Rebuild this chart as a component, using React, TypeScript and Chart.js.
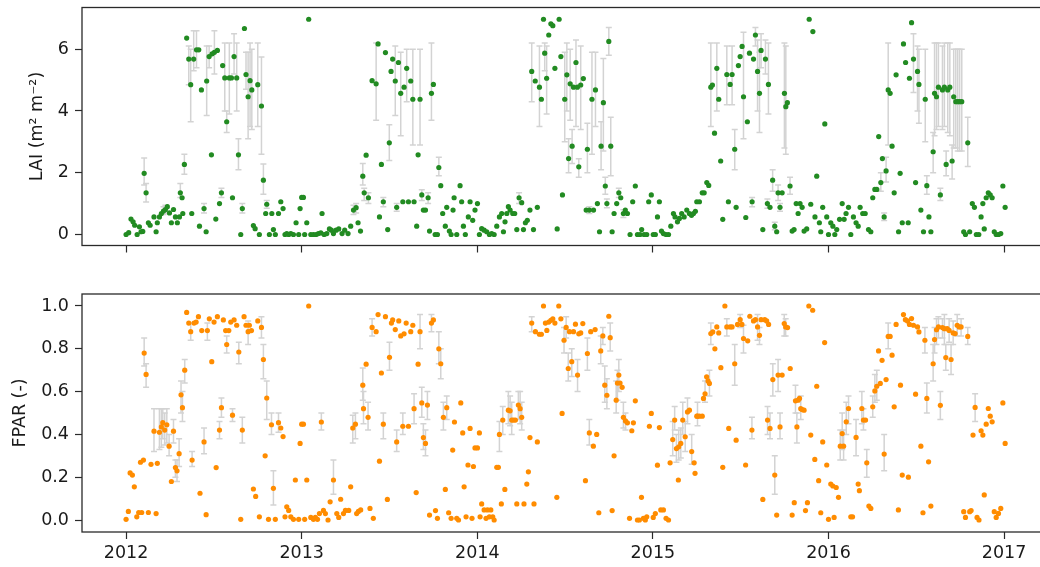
import React, { useEffect, useRef } from "react";
import { Chart, registerables } from "chart.js";

Chart.register(...registerables);

type Pt = [number, number, number?, number?];

const YEAR_TICKS = [2012, 2013, 2014, 2015, 2016, 2017];
const LAI_TICKS = [0, 2, 4, 6];
const FPAR_TICKS = [0, 0.2, 0.4, 0.6, 0.8, 1.0];
const X_MIN = 2011.749;
const X_MAX = 2017.25;
const LAI_RANGE = [-0.356, 7.35];
const FPAR_RANGE = [-0.056, 1.056];

// [decimal year, LAI, error low, error high]
const LAI_POINTS: Pt[] = [
  [2012.000,0.00],[2012.015,0.06],[2012.028,0.50],[2012.040,0.41],[2012.049,0.30],[2012.063,0.00],
  [2012.076,0.25],[2012.085,0.09],[2012.095,0.10],[2012.103,1.98,1.60,2.48],[2012.114,1.35,1.05,1.65],
  [2012.127,0.38],[2012.137,0.30],[2012.159,0.57],[2012.171,0.09],[2012.178,0.38],[2012.190,0.57],
  [2012.201,0.68],[2012.213,0.76,0.65,0.90],[2012.224,0.81,0.70,0.95],[2012.235,0.90],[2012.247,0.70],
  [2012.258,0.38],[2012.270,0.81],[2012.281,0.57],[2012.292,0.38],[2012.304,0.57],[2012.309,1.35,1.20,1.65],
  [2012.319,1.19],[2012.323,0.68],[2012.332,2.27,1.95,2.60],[2012.345,6.36],[2012.357,5.68,4.85,6.10],
  [2012.368,4.85,3.65,6.00],[2012.374,0.68],[2012.385,5.68,5.30,6.60],[2012.401,5.98,5.40,6.60],
  [2012.414,5.98],[2012.418,0.27],[2012.429,4.68],[2012.444,0.84,0.70,1.00],[2012.456,0.09],
  [2012.459,4.97,3.85,6.10],[2012.473,5.76,5.40,6.10],[2012.486,2.58],[2012.490,5.85],
  [2012.503,5.90,5.20,6.60],[2012.511,0.50],[2012.520,5.96],[2012.532,1.00],[2012.543,1.35,1.20,1.50],
  [2012.550,5.47],[2012.562,5.07,4.00,6.20],[2012.573,3.65,3.30,4.00],[2012.588,5.07,3.90,6.20],
  [2012.600,5.07],[2012.606,1.19],[2012.615,5.76,5.20,6.50],[2012.630,5.07,4.00,6.20],
  [2012.640,2.58,2.10,3.10],[2012.653,0.00],[2012.662,0.84,0.70,1.00],[2012.674,6.67],
  [2012.683,5.18,4.70,5.90],[2012.695,4.46,3.10,5.90],[2012.706,4.98,3.50,6.20],[2012.716,4.68,3.40,6.00],
  [2012.725,0.29],[2012.735,0.19],[2012.750,4.85,3.50,6.20],[2012.759,0.00],[2012.771,4.16,2.60,5.75],
  [2012.782,1.76,1.30,2.28],[2012.795,0.68],[2012.801,0.98,0.85,1.10],[2012.816,0.00],[2012.830,0.68],
  [2012.839,0.16],[2012.850,0.00],[2012.868,0.68],[2012.881,1.06],[2012.894,0.84],[2012.905,0.00],
  [2012.915,0.03],[2012.926,0.00],[2012.938,0.03],[2012.953,0.00],[2012.968,0.38],[2012.983,0.00],
  [2012.991,0.84],[2013.000,1.20],[2013.010,1.20],[2013.017,0.00],[2013.029,0.38],[2013.040,6.97],
  [2013.052,0.00],[2013.067,0.00],[2013.082,0.00],[2013.095,0.03],[2013.109,0.05],[2013.116,0.68],
  [2013.128,0.00],[2013.143,0.03],[2013.158,0.18],[2013.169,0.14],[2013.181,0.03],[2013.196,0.14],
  [2013.211,0.18],[2013.230,0.03],[2013.245,0.14],[2013.264,0.03],[2013.279,0.27],
  [2013.295,0.79,0.65,0.95],[2013.310,0.87,0.70,1.00],[2013.321,0.38],[2013.335,0.11],
  [2013.348,1.89,1.60,2.30],[2013.356,1.35,1.10,1.50],[2013.367,2.57],[2013.380,1.19,1.00,1.35],
  [2013.401,4.98],[2013.424,4.88,3.70,6.20],[2013.435,6.17],[2013.443,0.57],[2013.454,2.27],
  [2013.465,1.06,0.90,1.20],[2013.477,5.89],[2013.490,0.16],[2013.499,2.97,2.40,3.55],[2013.509,5.28],
  [2013.518,5.68],[2013.533,4.97,3.85,6.10],[2013.541,0.88,0.75,1.00],[2013.551,5.57],
  [2013.564,4.57,3.20,5.90],[2013.576,1.06],[2013.583,4.77],[2013.598,5.38,4.30,6.00],[2013.608,1.06],
  [2013.621,4.97],[2013.633,4.38,2.90,6.00],[2013.640,1.06],[2013.655,0.27],[2013.663,2.58],
  [2013.674,4.38,2.90,6.00],[2013.684,1.28,1.10,1.45],[2013.693,0.79],[2013.705,0.79],
  [2013.720,1.19,1.00,1.35],[2013.728,0.11],[2013.739,4.57,3.70,6.20],[2013.750,4.86],[2013.760,0.00],
  [2013.773,0.00],[2013.781,2.17,1.90,2.50],[2013.792,1.58],[2013.803,0.68],[2013.818,0.27],
  [2013.826,0.88],[2013.841,0.11],[2013.851,0.00],[2013.862,0.79],[2013.868,1.19],[2013.883,0.00],
  [2013.902,1.58],[2013.911,1.06],[2013.921,0.27],[2013.932,0.00],[2013.949,0.57],[2013.959,1.06],
  [2013.974,0.46],[2013.987,0.79],[2014.001,1.00],[2014.012,0.00],[2014.025,0.19],[2014.039,0.14],
  [2014.054,0.09],[2014.069,0.00],[2014.082,0.03],[2014.096,0.00],[2014.111,0.27],[2014.126,0.57],
  [2014.139,0.68],[2014.149,0.09],[2014.158,0.41],[2014.168,0.68],[2014.177,0.90],[2014.187,0.79],
  [2014.202,0.68],[2014.213,0.68],[2014.225,0.16],[2014.238,1.19,1.00,1.35],[2014.253,1.03],
  [2014.263,0.16],[2014.274,0.38],[2014.285,0.46],[2014.300,0.79],[2014.310,5.28,4.30,6.20],
  [2014.320,0.16],[2014.330,4.97],[2014.342,0.88],[2014.354,4.77,3.50,6.10],[2014.365,4.38],
  [2014.377,6.97],[2014.384,5.87,5.30,6.20],[2014.395,5.06,3.90,6.10],[2014.407,6.46],[2014.419,6.82],
  [2014.430,6.76],[2014.442,5.38],[2014.455,0.18],[2014.466,6.97],[2014.476,5.76],[2014.485,1.28],
  [2014.498,4.38,3.00,5.90],[2014.510,5.17,4.00,6.20],[2014.520,2.46,2.00,3.10],[2014.529,4.88,3.70,6.00],
  [2014.540,2.86,2.30,3.40],[2014.548,4.77],[2014.562,5.57,3.50,6.30],[2014.570,4.77],
  [2014.578,2.19,1.85,2.45],[2014.589,4.84,3.40,6.10],[2014.604,5.05],[2014.620,0.79],
  [2014.627,2.76,2.00,3.60],[2014.638,0.79,0.68,0.90],[2014.653,4.38,2.60,5.90],[2014.662,0.79],
  [2014.673,4.68,3.50,5.90],[2014.684,1.00],[2014.696,0.09],[2014.705,2.86,2.10,3.65],
  [2014.718,4.27,2.70,5.70],[2014.729,1.57,1.30,1.85],[2014.738,1.00,0.87,1.15],[2014.749,6.25,5.80,6.70],
  [2014.760,2.86,1.90,3.80],[2014.768,0.09],[2014.779,0.68],[2014.794,1.00],[2014.806,1.35,1.20,1.50],
  [2014.817,1.19],[2014.832,0.68,0.55,0.80],[2014.843,0.79],[2014.855,0.68],[2014.870,0.00],
  [2014.885,1.06],[2014.900,1.57],[2014.912,0.00],[2014.927,0.00],[2014.936,0.16],[2014.950,0.00],
  [2014.965,0.00],[2014.976,1.06],[2014.991,1.28],[2015.002,0.00],[2015.014,0.00],[2015.026,0.57],
  [2015.037,1.06],[2015.049,0.11],[2015.060,0.03],[2015.075,0.00],[2015.089,0.00],[2015.102,0.27],
  [2015.117,0.68],[2015.126,0.57],[2015.140,0.41],[2015.151,0.52],[2015.164,0.68],[2015.178,0.57],
  [2015.193,0.79],[2015.208,0.68],[2015.220,0.62],[2015.231,0.68],[2015.242,0.75],[2015.250,1.06],
  [2015.265,1.06],[2015.281,1.35],[2015.292,1.35],[2015.307,1.68],[2015.318,1.59],
  [2015.330,4.77,3.50,6.20],[2015.339,4.84],[2015.351,3.28],[2015.364,5.38,4.00,6.20],[2015.375,4.38],
  [2015.386,2.38],[2015.398,0.49],[2015.421,5.18,4.20,6.10],[2015.430,1.06],[2015.440,4.86],
  [2015.451,5.18,4.20,6.10],[2015.466,2.76,2.10,3.40],[2015.474,0.88],[2015.487,5.47],[2015.497,5.76],
  [2015.508,6.09],[2015.516,4.46,3.10,6.55],[2015.529,0.55],[2015.538,3.65],[2015.550,5.87],
  [2015.565,1.06,0.90,1.20],[2015.573,5.68],[2015.584,6.46,6.10,6.70],[2015.596,5.28,4.00,6.30],
  [2015.607,4.57,3.30,5.90],[2015.616,5.96,5.40,6.50],[2015.626,0.16],[2015.641,5.68,5.20,6.30],
  [2015.652,1.00,0.85,1.15],[2015.658,4.86,3.90,6.20],[2015.667,0.88],[2015.682,1.76,1.40,2.10],
  [2015.694,0.27,0.15,0.40],[2015.705,0.09],[2015.713,1.35,1.10,1.60],[2015.724,0.88,0.75,1.00],
  [2015.736,1.35],[2015.749,4.57,2.80,6.20],[2015.757,4.14,2.60,6.10],[2015.766,4.27],
  [2015.781,1.57,1.30,1.85],[2015.793,0.11],[2015.804,0.16],[2015.816,1.00],[2015.827,0.68],
  [2015.838,1.00],[2015.850,0.88],[2015.861,0.11],[2015.876,0.18],[2015.890,6.97],[2015.899,0.98],
  [2015.911,6.57],[2015.923,0.57],[2015.933,1.89],[2015.948,0.38],[2015.956,0.09],[2015.967,0.88],
  [2015.979,3.58],[2015.990,0.57],[2016.000,0.00],[2016.013,0.38],[2016.025,0.27],[2016.036,0.00],
  [2016.047,0.16],[2016.063,0.49],[2016.078,1.00],[2016.089,0.49],[2016.100,0.68],[2016.114,0.88],
  [2016.127,0.00],[2016.142,0.57],[2016.157,0.38],[2016.169,0.27],[2016.180,0.88],[2016.195,0.68],
  [2016.209,0.68],[2016.228,0.16],[2016.241,0.09],[2016.252,1.19],[2016.264,1.46],[2016.275,1.46],
  [2016.286,3.17],[2016.298,1.68,1.40,2.00],[2016.307,2.46],[2016.317,0.57,0.45,0.70],
  [2016.328,2.06,1.70,2.50],[2016.340,4.68,2.90,6.20],[2016.351,4.57],[2016.362,2.86],[2016.374,1.35],
  [2016.385,5.17],[2016.399,0.09],[2016.408,1.98],[2016.420,0.38],[2016.427,6.17],[2016.439,5.57],
  [2016.454,0.38],[2016.461,5.06],[2016.473,6.86],[2016.484,5.68,4.60,6.50],[2016.496,1.68],
  [2016.507,5.28,4.00,6.10],[2016.515,4.86,3.60,6.00],[2016.526,0.79],[2016.541,0.09],
  [2016.551,4.38,3.00,6.00],[2016.560,1.58,1.30,1.90],[2016.572,0.57],[2016.583,0.09],
  [2016.596,2.68,2.00,3.30],[2016.604,4.57,3.20,6.20],[2016.615,4.46,3.40,6.20],[2016.626,4.77,3.50,6.20],
  [2016.637,1.28,1.10,1.50],[2016.649,4.68,3.40,6.10],[2016.660,4.77,3.50,6.20],[2016.670,2.27,1.90,2.70],
  [2016.679,4.68,3.30,6.20],[2016.691,4.77,3.20,6.20],[2016.704,2.38,1.80,2.90],[2016.713,4.46,2.80,6.00],
  [2016.725,4.30,2.80,6.00],[2016.736,4.30,2.70,6.00],[2016.747,4.30,2.70,6.00],[2016.759,4.30,2.70,6.00],
  [2016.770,0.09],[2016.780,0.00],[2016.793,2.97,2.20,3.80],[2016.804,0.09],[2016.819,1.00],
  [2016.831,0.88],[2016.842,0.00],[2016.856,0.00],[2016.869,0.57],[2016.879,1.00],[2016.887,0.18],
  [2016.898,1.19],[2016.910,1.35],[2016.921,1.28],[2016.932,1.19],[2016.944,0.09],[2016.955,0.00],
  [2016.968,0.00],[2016.981,0.03],[2016.993,1.57],[2017.006,0.88],
];

// [decimal year, FPAR, error low, error high]
const FPAR_POINTS: Pt[] = [
  [2012.000,0.003],[2012.013,0.04],[2012.023,0.22],[2012.036,0.21],[2012.047,0.155],[2012.061,0.015],
  [2012.072,0.035],[2012.082,0.27],[2012.089,0.035],[2012.099,0.28],[2012.103,0.78,0.72,0.85],
  [2012.114,0.68,0.62,0.73],[2012.127,0.035],[2012.142,0.26],[2012.159,0.415,0.32,0.52],[2012.171,0.03],
  [2012.178,0.265],[2012.190,0.41,0.33,0.52],[2012.201,0.435,0.34,0.52],[2012.209,0.455,0.38,0.52],
  [2012.220,0.42,0.35,0.50],[2012.232,0.445,0.36,0.52],[2012.245,0.345,0.30,0.40],[2012.258,0.18],
  [2012.270,0.415,0.36,0.47],[2012.281,0.245,0.20,0.28],[2012.290,0.23,0.18,0.28],[2012.302,0.31,0.25,0.38],
  [2012.313,0.585,0.50,0.65],[2012.321,0.525,0.46,0.60],[2012.334,0.70,0.64,0.75],[2012.345,0.97],
  [2012.357,0.92],[2012.368,0.88,0.84,0.92],[2012.376,0.28,0.25,0.32],[2012.387,0.92],[2012.399,0.925],
  [2012.412,0.95],[2012.421,0.125],[2012.431,0.885],[2012.444,0.365,0.31,0.43],[2012.456,0.025],
  [2012.463,0.885,0.84,0.92],[2012.474,0.94],[2012.488,0.74],[2012.501,0.925],[2012.513,0.245],
  [2012.520,0.95],[2012.532,0.42,0.38,0.46],[2012.543,0.525,0.48,0.57],[2012.554,0.935],[2012.567,0.885],
  [2012.573,0.82,0.78,0.86],[2012.585,0.885],[2012.596,0.925],[2012.606,0.49,0.46,0.52],[2012.615,0.935],
  [2012.630,0.91],[2012.642,0.785,0.73,0.83],[2012.653,0.003],[2012.662,0.42,0.36,0.48],[2012.672,0.95],
  [2012.683,0.91],[2012.695,0.88,0.82,0.93],[2012.702,0.91],[2012.714,0.885],[2012.725,0.145],
  [2012.738,0.11],[2012.750,0.93],[2012.759,0.015],[2012.771,0.90,0.85,0.95],[2012.782,0.75,0.66,0.82],
  [2012.792,0.30],[2012.801,0.57,0.47,0.65],[2012.811,0.003],[2012.828,0.445,0.40,0.50],
  [2012.839,0.148,0.07,0.23],[2012.850,0.003],[2012.868,0.455,0.41,0.50],[2012.881,0.43],[2012.894,0.39],
  [2012.905,0.015],[2012.915,0.062],[2012.926,0.045],[2012.938,0.015],[2012.953,0.003],[2012.964,0.187],
  [2012.983,0.003],[2012.991,0.358],[2013.000,0.448],[2013.010,0.448],[2013.017,0.003],[2013.029,0.187],
  [2013.040,1.0],[2013.052,0.012],[2013.067,0.003],[2013.078,0.012],[2013.090,0.003],[2013.101,0.03],
  [2013.112,0.458,0.42,0.50],[2013.124,0.045],[2013.135,0.03],[2013.150,0.0],[2013.162,0.085],
  [2013.181,0.187,0.12,0.28],[2013.200,0.03],[2013.211,0.012],[2013.222,0.097],[2013.238,0.03],
  [2013.249,0.045],[2013.268,0.045],[2013.279,0.155],[2013.291,0.43,0.36,0.49],[2013.306,0.448,0.38,0.50],
  [2013.313,0.03],[2013.323,0.04],[2013.336,0.047],[2013.348,0.63,0.56,0.71],[2013.352,0.52,0.45,0.60],
  [2013.367,0.728],[2013.378,0.48,0.42,0.55],[2013.389,0.054],[2013.401,0.90,0.86,0.94],[2013.408,0.008],
  [2013.424,0.88],[2013.435,0.96],[2013.443,0.275],[2013.454,0.687],[2013.465,0.448,0.38,0.50],
  [2013.477,0.95],[2013.488,0.096],[2013.500,0.76,0.70,0.83],[2013.511,0.92],[2013.518,0.935],
  [2013.533,0.89],[2013.541,0.365,0.32,0.42],[2013.553,0.93],[2013.564,0.86],[2013.576,0.438,0.40,0.50],
  [2013.583,0.87],[2013.595,0.92],[2013.608,0.438],[2013.621,0.88],[2013.633,0.91],
  [2013.640,0.52,0.45,0.59],[2013.652,0.128],[2013.663,0.728],[2013.674,0.88,0.80,0.96],
  [2013.684,0.547,0.48,0.62],[2013.693,0.385,0.33,0.45],[2013.705,0.358,0.30,0.42],
  [2013.716,0.537,0.47,0.60],[2013.728,0.023],[2013.739,0.92,0.88,0.96],[2013.750,0.935],[2013.762,0.044],
  [2013.773,0.008],[2013.781,0.80,0.73,0.88],[2013.792,0.73,0.66,0.80],[2013.807,0.48,0.42,0.55],
  [2013.818,0.143],[2013.826,0.525,0.47,0.58],[2013.837,0.034],[2013.851,0.008],[2013.860,0.327],
  [2013.870,0.458],[2013.883,0.008],[2013.893,0.0],[2013.906,0.547],[2013.917,0.407],[2013.925,0.155],
  [2013.936,0.015],[2013.947,0.257],[2013.959,0.428],[2013.970,0.008],[2013.978,0.25],[2013.987,0.337],
  [2014.001,0.337],[2014.012,0.407],[2014.016,0.015],[2014.025,0.075],[2014.039,0.047],[2014.050,0.008],
  [2014.058,0.047],[2014.069,0.015],[2014.077,0.047],[2014.088,0.015],[2014.096,0.0],[2014.111,0.246],
  [2014.120,0.246],[2014.126,0.40,0.32,0.46],[2014.137,0.075],[2014.145,0.467,0.40,0.53],[2014.157,0.143],
  [2014.177,0.513,0.45,0.60],[2014.187,0.51,0.44,0.58],[2014.196,0.467,0.40,0.55],[2014.206,0.467],
  [2014.217,0.467],[2014.225,0.075],[2014.234,0.537,0.47,0.60],[2014.244,0.52,0.45,0.60],
  [2014.253,0.48,0.42,0.55],[2014.266,0.075],[2014.282,0.168],[2014.291,0.225],[2014.300,0.385],
  [2014.310,0.92,0.88,0.95],[2014.323,0.075],[2014.331,0.88],[2014.342,0.365],[2014.354,0.868],
  [2014.365,0.868],[2014.377,1.0],[2014.388,0.92],[2014.396,0.886],[2014.407,0.925],[2014.419,0.933],
  [2014.430,0.94],[2014.442,0.92],[2014.453,0.106],[2014.464,1.0],[2014.476,0.94],[2014.483,0.498],
  [2014.494,0.84,0.78,0.90],[2014.506,0.90,0.85,0.95],[2014.518,0.708,0.65,0.78],[2014.525,0.88],
  [2014.538,0.74,0.67,0.80],[2014.548,0.88],[2014.559,0.915],[2014.571,0.677,0.60,0.75],[2014.578,0.87],
  [2014.589,0.874],[2014.601,0.918],[2014.616,0.184],[2014.627,0.778,0.70,0.85],[2014.638,0.407,0.35,0.47],
  [2014.646,0.88],[2014.661,0.345],[2014.671,0.89],[2014.680,0.40],[2014.692,0.034],
  [2014.703,0.79,0.73,0.86],[2014.715,0.86,0.82,0.90],[2014.726,0.63,0.55,0.72],[2014.738,0.583,0.52,0.66],
  [2014.749,0.952],[2014.757,0.852,0.79,0.92],[2014.768,0.044],[2014.779,0.30],[2014.791,0.56,0.50,0.65],
  [2014.798,0.64,0.56,0.70],[2014.806,0.677,0.60,0.75],[2014.813,0.64],[2014.825,0.62],
  [2014.832,0.48,0.43,0.55],[2014.844,0.463,0.42,0.50],[2014.855,0.454],[2014.867,0.008],[2014.880,0.417],
  [2014.889,0.454],[2014.900,0.557],[2014.912,0.0],[2014.923,0.0],[2014.935,0.106],[2014.946,0.008],
  [2014.957,0.0],[2014.965,0.015],[2014.980,0.438],[2014.991,0.498],[2015.002,0.012],[2015.014,0.03],
  [2015.026,0.256],[2015.037,0.432],[2015.045,0.047],[2015.060,0.047],[2015.075,0.008],[2015.089,0.0],
  [2015.098,0.267],[2015.113,0.376,0.30,0.46],[2015.124,0.467,0.42,0.53],[2015.134,0.334,0.27,0.40],
  [2015.145,0.187],[2015.147,0.342,0.28,0.42],[2015.159,0.358,0.29,0.43],[2015.170,0.467,0.40,0.55],
  [2015.184,0.389,0.32,0.46],[2015.197,0.505,0.45,0.57],[2015.208,0.513],[2015.221,0.32,0.26,0.40],
  [2015.235,0.267],[2015.240,0.218],[2015.250,0.485],[2015.254,0.485,0.44,0.55],[2015.265,0.485],
  [2015.281,0.485],[2015.288,0.568],[2015.297,0.59,0.55,0.65],[2015.306,0.669],[2015.314,0.65],
  [2015.322,0.638,0.58,0.70],[2015.330,0.871,0.82,0.92],[2015.341,0.879],[2015.353,0.80],[2015.364,0.902],
  [2015.375,0.874],[2015.387,0.712],[2015.398,0.246],[2015.410,1.0],[2015.421,0.902,0.86,0.94],
  [2015.432,0.428],[2015.440,0.902],[2015.451,0.902],[2015.466,0.73,0.63,0.82],[2015.474,0.373],
  [2015.482,0.914],[2015.497,0.936,0.90,0.96],[2015.507,0.914],[2015.516,0.848,0.78,0.91],[2015.528,0.257],
  [2015.540,0.837],[2015.552,0.952],[2015.564,0.42,0.38,0.48],[2015.573,0.93],[2015.584,0.936],
  [2015.596,0.902,0.84,0.96],[2015.607,0.863,0.82,0.90],[2015.616,0.936],[2015.626,0.096],[2015.637,0.936],
  [2015.648,0.93],[2015.653,0.467,0.40,0.53],[2015.659,0.914],[2015.667,0.428,0.38,0.50],
  [2015.683,0.656,0.58,0.73],[2015.694,0.21,0.12,0.30],[2015.705,0.023],[2015.713,0.677,0.60,0.75],
  [2015.724,0.435,0.38,0.50],[2015.736,0.677],[2015.748,0.918,0.86,0.96],[2015.756,0.902,0.86,0.94],
  [2015.767,0.899],[2015.782,0.708],[2015.793,0.023],[2015.805,0.081],[2015.812,0.557,0.50,0.63],
  [2015.820,0.435,0.36,0.50],[2015.827,0.56],[2015.835,0.568],[2015.842,0.52,0.47,0.58],[2015.850,0.516],
  [2015.861,0.513],[2015.869,0.044],[2015.880,0.081],[2015.888,1.0],[2015.899,0.397],[2015.910,0.98],
  [2015.922,0.283],[2015.933,0.625],[2015.944,0.184],[2015.956,0.034],[2015.967,0.365],[2015.978,0.829],
  [2015.990,0.257],[2016.000,0.003],[2016.013,0.168],[2016.025,0.159],[2016.032,0.012],[2016.044,0.152],
  [2016.057,0.106],[2016.067,0.345,0.28,0.42],[2016.078,0.404,0.33,0.50],[2016.086,0.345,0.28,0.42],
  [2016.101,0.459,0.40,0.55],[2016.114,0.521,0.45,0.58],[2016.127,0.015],[2016.137,0.015],
  [2016.157,0.386,0.30,0.47],[2016.169,0.168],[2016.176,0.137],[2016.190,0.521,0.45,0.60],
  [2016.199,0.467,0.42,0.52],[2016.211,0.467],[2016.218,0.267,0.20,0.33],[2016.230,0.065],[2016.241,0.054],
  [2016.252,0.529,0.48,0.58],[2016.264,0.603,0.55,0.68],[2016.275,0.625,0.56,0.70],[2016.285,0.79],
  [2016.295,0.638],[2016.305,0.746],[2016.317,0.308,0.23,0.40],[2016.328,0.656],[2016.340,0.858,0.80,0.92],
  [2016.351,0.858],[2016.362,0.77],[2016.374,0.529],[2016.385,0.914],[2016.398,0.047],[2016.410,0.63],
  [2016.420,0.21],[2016.427,0.96],[2016.438,0.936],[2016.450,0.93],[2016.455,0.20],[2016.461,0.914],
  [2016.473,0.941],[2016.484,0.91],[2016.496,0.588],[2016.507,0.902],[2016.515,0.879],[2016.526,0.345],
  [2016.538,0.034],[2016.549,0.84,0.78,0.90],[2016.560,0.568,0.50,0.64],[2016.570,0.272],[2016.583,0.065],
  [2016.596,0.73,0.65,0.82],[2016.604,0.843,0.78,0.90],[2016.615,0.889,0.82,0.94],[2016.626,0.902,0.85,0.95],
  [2016.637,0.536,0.47,0.60],[2016.649,0.899,0.85,0.94],[2016.660,0.894,0.82,0.96],[2016.668,0.759,0.70,0.82],
  [2016.676,0.894],[2016.687,0.886,0.83,0.94],[2016.698,0.75,0.68,0.82],[2016.710,0.874,0.82,0.93],
  [2016.721,0.871],[2016.733,0.91,0.86,0.96],[2016.744,0.902],[2016.755,0.902,0.86,0.94],[2016.770,0.039],
  [2016.780,0.012],[2016.793,0.858,0.82,0.90],[2016.804,0.039],[2016.812,0.044],[2016.823,0.397],
  [2016.835,0.526,0.46,0.59],[2016.846,0.012],[2016.857,0.0],[2016.869,0.417],[2016.879,0.397],
  [2016.887,0.117],[2016.898,0.448],[2016.910,0.521],[2016.921,0.485],[2016.932,0.459],[2016.944,0.039],
  [2016.955,0.012],[2016.968,0.031],[2016.981,0.054],[2016.993,0.547],[2017.006,0.358],
];

const FONT = { family: "'DejaVu Sans', sans-serif", size: 17.5 };
const TEXT = "#1a1a1a";
const ERR_COLOR = "#d3d3d3";

const errorBarPlugin = {
  id: "errorBars",
  beforeDatasetsDraw(chart: any, _args: any, opts: any) {
    const pts: Pt[] = opts.points || [];
    const { ctx, chartArea, scales } = chart;
    ctx.save();
    ctx.beginPath();
    ctx.rect(chartArea.left, chartArea.top, chartArea.right - chartArea.left, chartArea.bottom - chartArea.top);
    ctx.clip();
    ctx.strokeStyle = ERR_COLOR;
    ctx.lineWidth = 1.5;
    for (const p of pts) {
      if (p[2] === undefined || p[3] === undefined) continue;
      const x = scales.x.getPixelForValue(p[0]);
      const y1 = scales.y.getPixelForValue(p[2]);
      const y2 = scales.y.getPixelForValue(p[3]);
      ctx.beginPath();
      ctx.moveTo(x, y1); ctx.lineTo(x, y2);
      ctx.moveTo(x - 3, y1); ctx.lineTo(x + 3, y1);
      ctx.moveTo(x - 3, y2); ctx.lineTo(x + 3, y2);
      ctx.stroke();
    }
    ctx.restore();
  },
};

const framePlugin = {
  id: "frame",
  afterDraw(chart: any) {
    const { ctx, chartArea } = chart;
    ctx.save();
    ctx.strokeStyle = "#2a2a2a";
    ctx.lineWidth = 1.3;
    ctx.strokeRect(chartArea.left, chartArea.top, chartArea.right - chartArea.left, chartArea.bottom - chartArea.top);
    ctx.restore();
  },
};

type PanelProps = {
  points: Pt[];
  color: string;
  yTicks: number[];
  yRange: number[];
  yTitle: string;
  fmt: (v: number) => string;
  showX: boolean;
  height: number;
  padLeft: number;
  padTop: number;
  xAxisH: number;
};

function Panel(props: PanelProps) {
  const ref = useRef<HTMLCanvasElement>(null);
  useEffect(() => {
    if (!ref.current) return;
    const p = props;
    const chart = new Chart(ref.current, {
      type: "scatter",
      data: {
        datasets: [
          {
            data: p.points.map((q) => ({ x: q[0], y: q[1] })),
            backgroundColor: p.color,
            borderWidth: 0,
            pointRadius: 2.6,
            pointHoverRadius: 2.6,
          },
        ],
      },
      options: {
        responsive: false,
        animation: false,
        events: [],
        layout: { padding: { left: p.padLeft, top: p.padTop, right: 8, bottom: 0 } },
        plugins: {
          legend: { display: false },
          tooltip: { enabled: false },
          errorBars: { points: p.points },
        } as any,
        scales: {
          x: {
            type: "linear",
            min: X_MIN,
            max: X_MAX,
            afterBuildTicks: (s: any) => {
              s.ticks = YEAR_TICKS.map((v) => ({ value: v }));
            },
            afterFit: (s: any) => {
              s.height = p.xAxisH;
              s.paddingLeft = 0;
              s.paddingRight = 0;
            },
            ticks: {
              autoSkip: false,
              maxRotation: 0,
              font: FONT,
              color: TEXT,
              padding: 4,
              callback: (v: any) => (p.showX ? String(v) : ""),
            },
            grid: { drawOnChartArea: false, drawTicks: true, tickLength: 7, tickColor: "#2a2a2a", tickWidth: 1.2 },
            border: { display: false },
          },
          y: {
            type: "linear",
            min: p.yRange[0],
            max: p.yRange[1],
            afterBuildTicks: (s: any) => {
              s.ticks = p.yTicks.map((v) => ({ value: v }));
            },
            afterFit: (s: any) => {
              s.width = 82 - p.padLeft;
              s.paddingTop = 0;
              s.paddingBottom = 0;
            },
            ticks: { font: FONT, color: TEXT, padding: 6, callback: (v: any) => p.fmt(Number(v)) },
            grid: { drawOnChartArea: false, drawTicks: true, tickLength: 7, tickColor: "#2a2a2a", tickWidth: 1.2 },
            border: { display: false },
            title: { display: true, text: p.yTitle, font: FONT, color: TEXT, padding: 0 },
          },
        },
      },
      plugins: [errorBarPlugin, framePlugin],
    });
    return () => chart.destroy();
  }, []);
  return <canvas ref={ref} width={1056} height={props.height} style={{ display: "block" }} />;
}

export default function App() {
  return (
    <div style={{ position: "absolute", left: 0, top: 0, width: 1040, height: 567, overflow: "hidden", background: "#fff" }}>
      <div style={{ position: "absolute", left: 0, top: 0 }}>
        <Panel
          points={LAI_POINTS}
          color="#228b22"
          yTicks={LAI_TICKS}
          yRange={LAI_RANGE}
          yTitle="LAI (m² m⁻²)"
          fmt={(v) => String(v)}
          showX={false}
          height={270}
          padLeft={26.5}
          padTop={7.5}
          xAxisH={24.5}
        />
      </div>
      <div style={{ position: "absolute", left: 0, top: 270 }}>
        <Panel
          points={FPAR_POINTS}
          color="#ff8c00"
          yTicks={FPAR_TICKS}
          yRange={FPAR_RANGE}
          yTitle="FPAR (-)"
          fmt={(v) => v.toFixed(1)}
          showX={true}
          height={297}
          padLeft={9.5}
          padTop={24}
          xAxisH={35}
        />
      </div>
    </div>
  );
}
